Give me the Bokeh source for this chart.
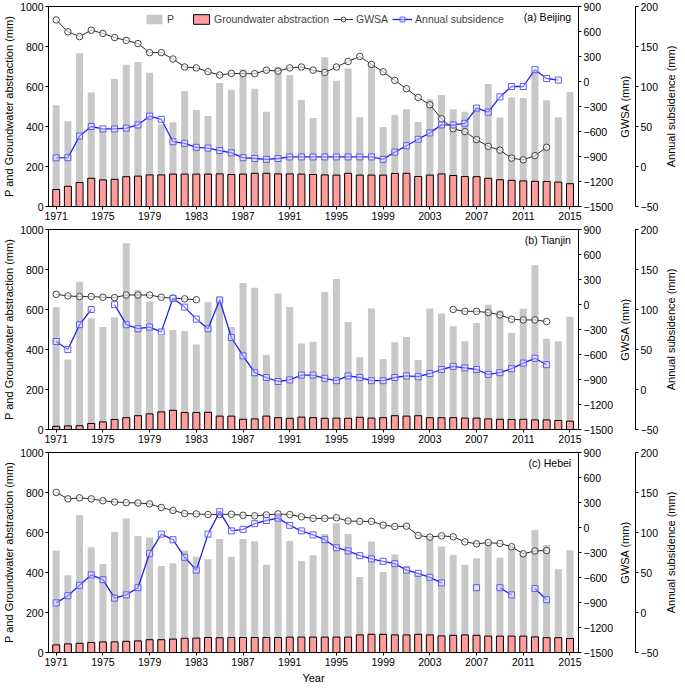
import math
import numpy as np
from bokeh.plotting import figure
from bokeh.models import (Range1d, LinearAxis, FixedTicker, Legend, LegendItem, Label)
from bokeh.layouts import column, row
from bokeh.embed import file_html
from bokeh.resources import INLINE

nan = float("nan")

years = list(range(1971, 2016))
x_ticks = list(range(1971, 2016, 4))
left_ticks = [0, 200, 400, 600, 800, 1000]
gwsa_ticks = [-1500, -1200, -900, -600, -300, 0, 300, 600, 900]
sub_ticks = [-50, 0, 50, 100, 150, 200]

# ---------------- (a) Beijing ----------------
bj_p = [506, 426, 766, 570, 390, 638, 709, 722, 669, 410,
        421, 578, 482, 453, 618, 584, 685, 589, 474, 698,
        658, 533, 442, 746, 629, 690, 446, 713, 397, 458,
        486, 422, 535, 558, 486, 474, 500, 613, 445, 545,
        542, 674, 531, 446, 573]
bj_gw = [85, 101, 120, 141, 133, 136, 149, 152, 158, 158,
         162, 162, 162, 162, 163, 160, 162, 166, 166, 163,
         163, 162, 160, 158, 157, 166, 157, 157, 157, 165,
         166, 150, 157, 163, 155, 150, 149, 141, 134, 131,
         128, 126, 125, 122, 114]
bj_gwsa = [739, 597, 539, 616, 577, 527, 493, 455, 347, 347,
           270, 174, 163, 117, 78, 97, 94, 94, 136, 124,
           163, 174, 136, 109, 174, 240, 301, 205, 117, 13,
           -87, -191, -279, -448, -567, -601, -697, -778, -824, -920,
           -940, -889, -790, nan, nan]
bj_sub = [10.8, 11, 38, 50, 47, 47, 48, 52, 63, 59,
          31, 29, 24, 23, 20, 17, 11, 10, 9, 10,
          12, 12, 12, 12, 12, 12, 12, 12, 9, 18,
          26, 34, 42, 52, 52, 54, 73, 68, 87, 100,
          100, 121, 110, 108, nan]

# ---------------- (b) Tianjin ----------------
tj_p = [612, 350, 739, 556, 513, 561, 931, 696, 640, 468,
        497, 493, 425, 636, 661, 513, 733, 709, 372, 680,
        612, 430, 439, 688, 752, 537, 361, 605, 353, 436,
        462, 348, 605, 580, 516, 441, 532, 624, 596, 482,
        604, 821, 454, 441, 564]
tj_gw = [16, 18, 19, 30, 38, 50, 59, 69, 78, 88,
         96, 85, 85, 86, 67, 67, 51, 53, 67, 59,
         56, 62, 59, 56, 57, 56, 61, 57, 59, 69,
         67, 69, 59, 59, 59, 57, 57, 53, 51, 50,
         51, 48, 48, 45, 42]
tj_gwsa = [122, 103, 95, 95, 87, 83, 114, 114, 114, 87,
           76, 68, 57, nan, nan, nan, nan, nan, nan, nan,
           nan, nan, nan, nan, nan, nan, nan, nan, nan, nan,
           nan, nan, nan, nan, -59, -82, -82, -97, -124, -177,
           -185, -185, -204, nan, nan]
tj_sub = [60, 50, 81, 100, nan, 106, 81, 76, 78, 72,
          114, 103, 88, 76, 112, 65, 42, 21, 15, 10,
          12, 18, 18, 14, 11, 17, 15, 11, 11, 15,
          17, 16, 20, 25, 29, 27, 25, 19, 21, 26,
          33, 39, 31, nan, nan]

# ---------------- (c) Hebei ----------------
hb_p = [510, 386, 688, 526, 442, 603, 670, 582, 575, 433,
        446, 510, 479, 466, 567, 478, 567, 555, 439, 675,
        558, 457, 486, 592, 646, 593, 378, 555, 402, 490,
        434, 400, 575, 530, 487, 437, 471, 546, 474, 538,
        498, 613, 538, 416, 511]
hb_gw = [38, 43, 46, 50, 53, 53, 56, 58, 64, 64,
         67, 71, 72, 75, 74, 75, 75, 75, 75, 75,
         77, 77, 77, 77, 77, 77, 88, 91, 91, 88,
         88, 91, 88, 83, 86, 88, 86, 82, 82, 82,
         82, 78, 74, 74, 70]
hb_gwsa = [421, 344, 356, 344, 321, 306, 298, 294, 283, 240,
           205, 167, 163, 155, 155, 159, 147, 140, 151, 163,
           155, 128, 109, 109, 117, 78, 74, 74, 28, 12,
           16, -96, -115, -100, -111, -173, -196, -181, -192, -231,
           -316, -281, -277, nan, nan]
hb_sub = [12, 21, 34, 47, 41, 18, 22, 31, 74, 98,
          91, 69, 53, 98, 126, 102, 104, 111, 115, 118,
          109, 102, 97, 91, 81, 77, 71, 67, 64, 61,
          53, 49, 44, 37, nan, nan, 31, nan, 31, 22,
          nan, 30, 16, nan, nan]

FONT = "Liberation Sans Narrow, Liberation Sans, Arial, sans-serif"
TICK_FS = "10.5px"
LAB_FS = "11px"
FW, FH = 530, 200
X0, X1 = 1970.34, 2015.73

P_COLOR = "#C8C8C8"
GW_COLOR = "#FF9C9C"
GWSA_COLOR = "#2A2A2A"
SUB_COLOR = "#2020F0"
SUB_MARK = "#5C5CFF"


def style_axis(ax, label=None):
    ax.major_label_text_font = FONT
    ax.major_label_text_font_size = TICK_FS
    ax.major_label_text_color = "black"
    ax.axis_label_text_font = FONT
    ax.axis_label_text_font_size = LAB_FS
    ax.axis_label_text_font_style = "normal"
    ax.axis_label_text_color = "black"
    ax.major_tick_out = 3
    ax.major_tick_in = 0
    ax.minor_tick_out = 0
    ax.minor_tick_in = 0
    ax.major_label_standoff = 2
    ax.axis_label_standoff = 3
    ax.axis_line_color = "black"
    ax.major_tick_line_color = "black"
    if label is not None:
        ax.axis_label = label


def title_only_axis(ax, label):
    # an axis that shows only its (bottom-to-top) title
    style_axis(ax, label)
    ax.ticker = FixedTicker(ticks=[])
    ax.axis_line_color = None
    ax.major_tick_line_color = None
    ax.major_tick_out = 0
    ax.major_label_standoff = 0
    ax.axis_label_standoff = 4


def blank_fig(bottom, yr, left_border):
    f = figure(frame_width=1, frame_height=FH, x_range=Range1d(0, 1),
               y_range=yr, x_axis_location=None, y_axis_location="left",
               output_backend="svg", toolbar_location=None,
               min_border_left=left_border, min_border_right=0,
               min_border_top=6, min_border_bottom=bottom)
    f.xgrid.grid_line_color = None
    f.ygrid.grid_line_color = None
    f.outline_line_color = None
    f.background_fill_color = "white"
    f.border_fill_color = "white"
    return f


def make_panel(tag, P, GW, G, S, legend=False, xlabel=False):
    p = figure(frame_width=FW, frame_height=FH,
               x_range=Range1d(X0, X1), y_range=Range1d(0, 1000),
               output_backend="svg", toolbar_location=None,
               min_border_left=4, min_border_right=0, min_border_top=6,
               min_border_bottom=2)
    p.extra_y_ranges = {"gwsa": Range1d(-1500, 900), "sub": Range1d(-50, 200)}
    p.xgrid.grid_line_color = None
    p.ygrid.grid_line_color = None
    p.outline_line_color = "black"
    p.outline_line_alpha = 1.0
    p.background_fill_color = "white"
    p.border_fill_color = "white"

    p.xaxis.ticker = FixedTicker(ticks=x_ticks)
    style_axis(p.xaxis[0], "Year" if xlabel else None)
    p.yaxis.ticker = FixedTicker(ticks=left_ticks)
    style_axis(p.yaxis[0], "P and Groundwater abstraction (mm)")
    p.yaxis[0].axis_label_standoff = 2

    ax_g = LinearAxis(y_range_name="gwsa", ticker=FixedTicker(ticks=gwsa_ticks))
    style_axis(ax_g)
    p.add_layout(ax_g, "right")

    r_p = p.vbar(x=years, top=P, bottom=0, width=0.6,
                 fill_color=P_COLOR, line_color=None)
    r_gw = p.vbar(x=years, top=GW, bottom=0, width=0.6,
                  fill_color=GW_COLOR, line_color="black", line_width=1)
    r_gl = p.line(years, G, y_range_name="gwsa", line_color=GWSA_COLOR,
                  line_width=1)
    r_gm = p.scatter(years, G, y_range_name="gwsa", marker="circle", size=6.5,
                     line_color="#444444", line_width=1, fill_color="white",
                     fill_alpha=0.6)
    r_sl = p.line(years, S, y_range_name="sub", line_color=SUB_COLOR,
                  line_width=1.3)
    r_sm = p.scatter(years, S, y_range_name="sub", marker="square", size=6,
                     line_color=SUB_MARK, line_width=1, fill_color="white",
                     fill_alpha=0.4)

    p.add_layout(Label(x=2015.1, y=950, text=tag, text_align="right",
                       text_baseline="middle", text_font=FONT,
                       text_font_size=TICK_FS, text_color="black"))

    if legend:
        leg = Legend(items=[
            LegendItem(label="P", renderers=[r_p]),
            LegendItem(label="Groundwater abstraction", renderers=[r_gw]),
            LegendItem(label="GWSA", renderers=[r_gl, r_gm]),
            LegendItem(label="Annual subsidence", renderers=[r_sl, r_sm]),
        ], orientation="horizontal", location=(96, FH - 19),
            border_line_color=None, background_fill_alpha=0,
            padding=0, margin=0, spacing=4, glyph_width=20, glyph_height=12,
            label_standoff=3, label_text_font=FONT,
            label_text_font_size=TICK_FS, label_height=12)
        p.add_layout(leg, "center")

    bottom = 32 if xlabel else 17
    # middle strip: GWSA title + annual subsidence axis
    mid = blank_fig(bottom, Range1d(-50, 200), 17)
    title_only_axis(mid.yaxis[0], "GWSA (mm)")
    ax_s = LinearAxis(ticker=FixedTicker(ticks=sub_ticks))
    style_axis(ax_s)
    mid.add_layout(ax_s, "right")
    # right strip: annual subsidence title
    rgt = blank_fig(bottom, Range1d(-50, 200), 14)
    title_only_axis(rgt.yaxis[0], "Annual subsidence (mm)")
    return row(p, mid, rgt, spacing=0)


pa = make_panel("(a) Beijing", bj_p, bj_gw, bj_gwsa, bj_sub, legend=True)
pb = make_panel("(b) Tianjin", tj_p, tj_gw, tj_gwsa, tj_sub)
pc = make_panel("(c) Hebei", hb_p, hb_gw, hb_gwsa, hb_sub, xlabel=True)

layout = column(pa, pb, pc, spacing=0)

open("out.html", "w").write(file_html(layout, INLINE))
